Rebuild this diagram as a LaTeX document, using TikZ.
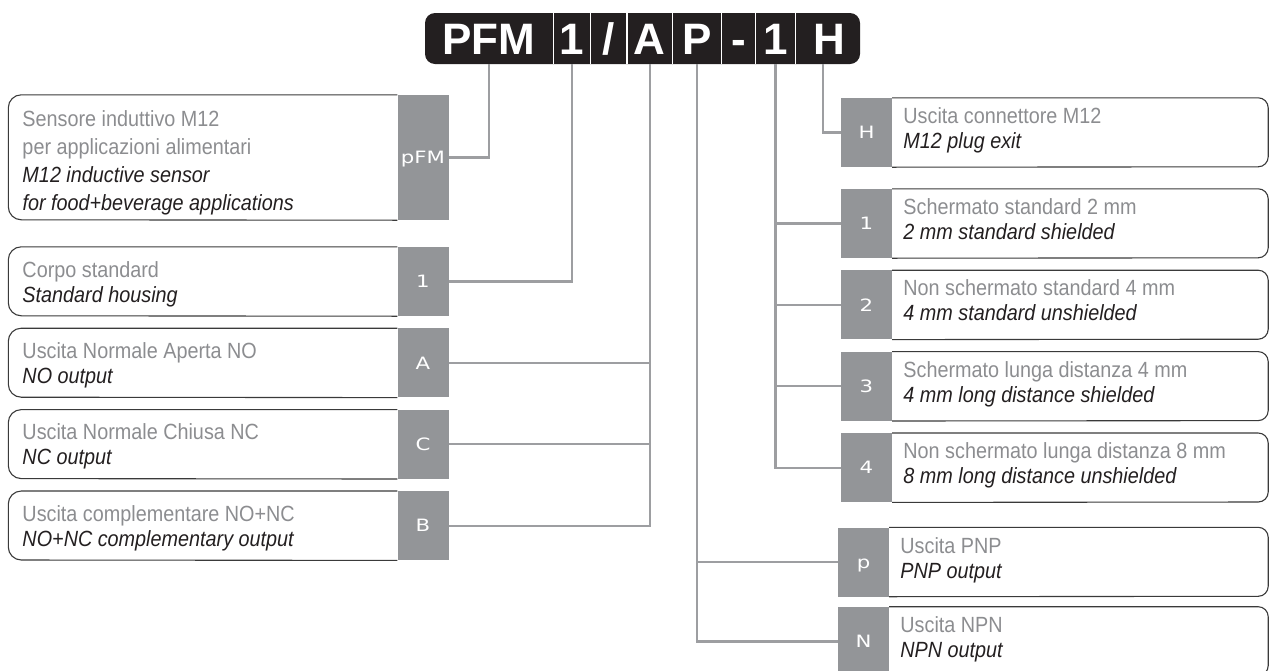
\documentclass[tikz,border=0pt]{standalone}
\usepackage{fontspec}
\setmainfont{Liberation Sans}[FakeStretch=0.9]
\newfontfamily\keyfont{DejaVu Sans}[FakeStretch=1.25]
\newfontfamily\codefont{Liberation Sans}
\usepackage{tikz}
\usetikzlibrary{positioning,calc}

\definecolor{codeblack}{HTML}{231F20}
\definecolor{keygray}{HTML}{939598}
\definecolor{linkgray}{HTML}{9D9EA1}
\definecolor{txtgray}{HTML}{8C8D90}
\definecolor{rimcol}{HTML}{3A3A3A}

\tikzset{
  cell/.style={minimum height=51pt, inner sep=0pt, text=white,
    font=\codefont\bfseries\fontsize{44}{44}\selectfont, text height=31.5pt, text depth=0pt},
  key/.style={fill=keygray, minimum width=51pt, minimum height=69pt, inner sep=0pt, text=white,
    font=\keyfont\fontsize{17}{17}\selectfont, text height=12.4pt, text depth=0pt},
  link/.style={draw=linkgray, line width=2.2pt},
  rim/.style={draw=rimcol, line width=1.1pt},
  sep/.style={draw=white, line width=1.2pt},
  desc/.style={anchor=west, inner sep=0pt, align=left, text=codeblack,
    font=\fontsize{22}{25}\selectfont},
}
\newcommand{\gr}[1]{{\color{txtgray}#1}\strut}
\newcommand{\en}[1]{\textit{#1}\strut}

\begin{document}
\begin{tikzpicture}[x=1pt,y=-1pt]
\useasboundingbox (0,0) rectangle (1270,670);

% code bar
\fill[codeblack, rounded corners=10pt] (425,13) rectangle (860,64);
\node[cell, minimum width=128pt] (cPFM) at (489,38.5) {PFM};
\node[cell, minimum width=37pt, right=0pt of cPFM] (cOne) {1};
\node[cell, minimum width=36pt, right=0pt of cOne] (cSlash) {/};
\node[cell, minimum width=45pt, right=0pt of cSlash] (cA) {A};
\node[cell, minimum width=49pt, right=0pt of cA] (cP) {P};
\node[cell, minimum width=33pt, right=0pt of cP] (cDash) {-};
\node[cell, minimum width=40pt, right=0pt of cDash] (cNum) {1};
\node[cell, minimum width=67pt, right=0pt of cNum] (cH) {H};
\foreach \c in {cPFM,cOne,cSlash,cA,cP,cDash,cNum}
  \draw[sep] (\c.north east) -- (\c.south east);

% left keys
\node[key, minimum height=125pt] (kPFM) at (423,157.5) {pFM};
\node[key] (kOne) at (423,281.5) {1};
\node[key, below=12pt of kOne] (kA) {A};
\node[key, below=12pt of kA] (kC) {C};
\node[key, below=12pt of kC] (kB) {B};

% right keys
\node[key] (kH) at (866.5,132.5) {H};
\node[key] (kS1) at (866.5,223.5) {1};
\node[key, below=12pt of kS1] (kS2) {2};
\node[key, below=12pt of kS2] (kS3) {3};
\node[key, below=12pt of kS3] (kS4) {4};
\node[key] (kPNP) at (863.5,562) {p};
\node[key, below=10pt of kPNP] (kNPN) {N};

% connectors
\draw[link] (cPFM.south) |- (kPFM.east);
\draw[link] (cOne.south) |- (kOne.east);
\foreach \k in {kA,kC,kB}
  \draw[link] (cA.south) |- (\k.east);
\foreach \k in {kPNP,kNPN}
  \draw[link] (cP.south) |- (\k.west);
\foreach \k in {kS1,kS2,kS3,kS4}
  \draw[link] (cNum.south) |- (\k.west);
\draw[link] ([xshift=-6pt]cH.south) |- (kH.west);

% frames
\draw[rim, rounded corners=13pt] (kPFM.north west) -- ++(-389,0) -- ++(0,125) -- (kPFM.south west);
\foreach \k in {kOne,kA,kC,kB}
  \draw[rim, rounded corners=13pt] (\k.north west) -- ++(-389,0) -- ++(0,69) -- (\k.south west);
\foreach \k in {kH,kS1,kS2,kS3,kS4}
  \draw[rim, rounded corners=10pt] (\k.north east) -- ++(376,0) -- ++(0,69) -- (\k.south east);
\foreach \k in {kPNP,kNPN}
  \draw[rim, rounded corners=10pt] (\k.north east) -- ++(379,0) -- ++(0,69) -- (\k.south east);

% texts left
\node[desc, font=\fontsize{22}{28}\selectfont, yshift=-5.6pt] (tPFM) at ([xshift=-375pt]kPFM.west)
  {\gr{Sensore induttivo M12}\\\gr{per applicazioni alimentari}\\\en{M12 inductive sensor}\\\en{for food+beverage applications}};
\node[desc, yshift=-3pt] (tOne) at ([xshift=-375pt]kOne.west) {\gr{Corpo standard}\\\en{Standard housing}};
\node[desc, yshift=-3pt] (tA) at ([xshift=-375pt]kA.west) {\gr{Uscita Normale Aperta NO}\\\en{NO output}};
\node[desc, yshift=-3pt] (tC) at ([xshift=-375pt]kC.west) {\gr{Uscita Normale Chiusa NC}\\\en{NC output}};
\node[desc, yshift=-3pt] (tB) at ([xshift=-375pt]kB.west) {\gr{Uscita complementare NO+NC}\\\en{NO+NC complementary output}};

% texts right
\node[desc, yshift=1.5pt] (tH) at ([xshift=11pt]kH.east) {\gr{Uscita connettore M12}\\\en{M12 plug exit}};
\node[desc, yshift=1.5pt] (tS1) at ([xshift=11pt]kS1.east) {\gr{Schermato standard 2 mm}\\\en{2 mm standard shielded}};
\node[desc, yshift=1.5pt] (tS2) at ([xshift=11pt]kS2.east) {\gr{Non schermato standard 4 mm}\\\en{4 mm standard unshielded}};
\node[desc, yshift=1.5pt] (tS3) at ([xshift=11pt]kS3.east) {\gr{Schermato lunga distanza 4 mm}\\\en{4 mm long distance shielded}};
\node[desc, yshift=1.5pt] (tS4) at ([xshift=11pt]kS4.east) {\gr{Non schermato lunga distanza 8 mm}\\\en{8 mm long distance unshielded}};
\node[desc, yshift=1.5pt] (tPNP) at ([xshift=11pt]kPNP.east) {\gr{Uscita PNP}\\\en{PNP output}};
\node[desc, yshift=1.5pt] (tNPN) at ([xshift=11pt]kNPN.east) {\gr{Uscita NPN}\\\en{NPN output}};
\end{tikzpicture}
\end{document}
